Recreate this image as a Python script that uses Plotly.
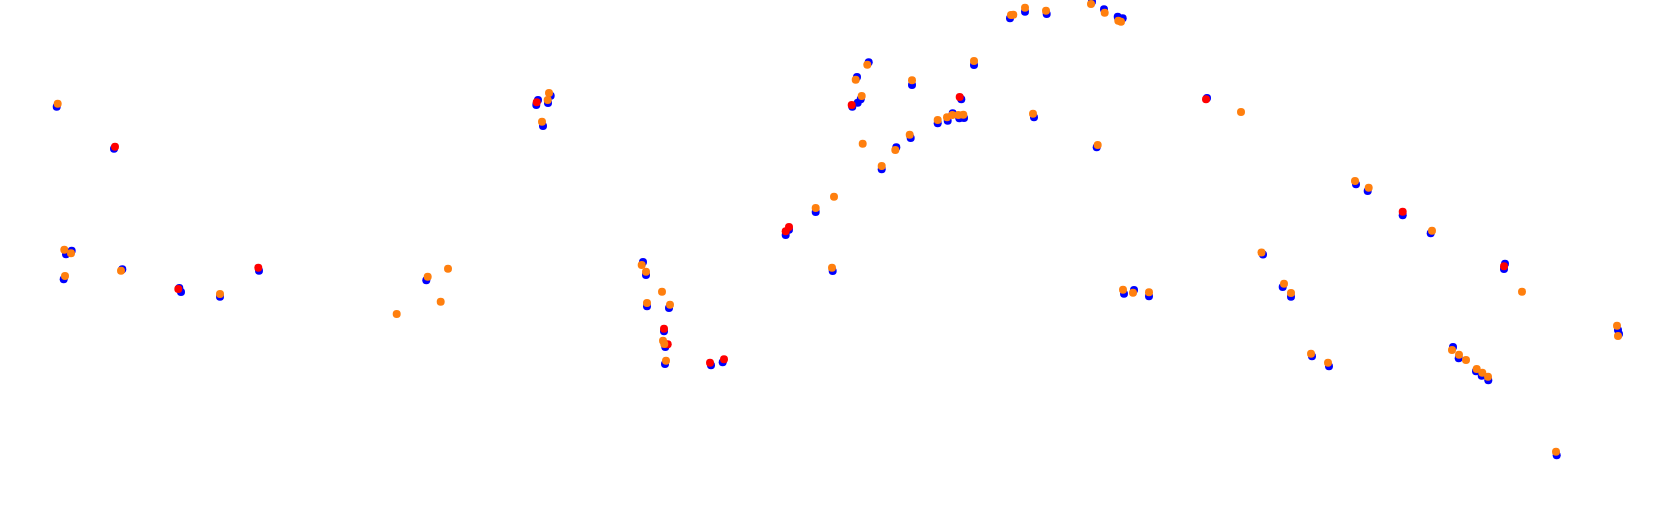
import plotly.graph_objects as go

blue_x = [56.7, 114, 66, 71.7, 63.7, 122.3, 179.3, 181, 220, 259, 550.7, 548, 536.3, 538, 543,
          815.7, 789, 785.7, 426.3, 643, 646, 647, 669, 664, 665.3, 665, 711, 722.7, 832.7,
          1010, 1025, 1046.7, 1092, 1104, 1117.7, 1122.7, 974, 868.7, 857, 860.7, 857.7, 852.3,
          912, 961.3, 937.7, 947.7, 952.7, 959.3, 964, 1034, 1207, 896.3, 910.7, 881.7, 1096.7,
          1124, 1134, 1149, 1356, 1367.7, 1402.7, 1430.7, 1263, 1282.7, 1291, 1312, 1329,
          1505, 1504, 1618, 1619, 1453, 1458.7, 1476, 1481.7, 1488.3, 1556.7]
blue_y = [106.7, 148.7, 254.3, 250.7, 279.3, 269.3, 288, 292, 296.7, 270.7, 95.7, 103, 105, 100, 126,
          212, 229.7, 235, 280.3, 262, 275, 306.3, 308, 331.3, 347, 364, 365.3, 362.3, 271,
          18.3, 11.7, 14, 1.7, 9.3, 16.7, 18.3, 65, 62.3, 77, 99.3, 102.7, 106.7,
          85, 99.3, 123.3, 120.7, 113.3, 118.3, 118, 117.3, 98, 147.3, 138, 169.3, 147.3,
          293.7, 290, 296.3, 184.3, 191, 215.3, 233.3, 254.5, 287, 296.7, 356.3, 366.3,
          263.7, 269, 330, 334, 347, 358.3, 371.3, 375.7, 380.3, 455.3]

red_x = [115, 178.3, 258.3, 536.7, 789, 785.7, 664, 667.7, 710, 724, 851.7, 959.7, 1206, 1402.7, 1504]
red_y = [146.7, 289, 267.7, 102.3, 227, 231.3, 328.7, 344.3, 362.7, 359.3, 105, 97, 99.3, 211.7, 266.3]

orange_x = [57.7, 64.3, 71, 65, 121, 220, 396.7, 549, 547.7, 542, 815.7, 834, 427.7, 448, 440.7,
            641.7, 646, 662, 647, 670, 663, 664.3, 666, 832, 1011, 1013.3, 1025, 1046, 1091,
            1104.7, 1118.3, 1121, 974, 867.3, 855.7, 861.7, 912, 937.7, 947, 952.3, 958.3, 963.3,
            1033, 1241, 862.7, 895.3, 909.7, 881.7, 1097.7, 1123, 1133, 1149, 1355, 1368.7, 1432,
            1261.5, 1284, 1291, 1311, 1328, 1522, 1617, 1618, 1452, 1459, 1466, 1476.7, 1482.3,
            1488, 1556]
orange_y = [103.7, 249.7, 253.3, 276, 270.7, 294, 314, 93, 100, 121.7, 208, 196.7, 276.7, 268.7, 301.7,
            265, 271.7, 291.7, 303, 304.7, 340.7, 344, 360.7, 267.7, 15, 14.7, 7.7, 10.7, 4,
            12.7, 20.7, 21.7, 61, 64.7, 79.7, 96, 80.3, 120, 117.3, 115, 115, 114.7,
            113.7, 112, 143.7, 150, 134.7, 166, 145, 289.7, 292.7, 292.3, 181, 187.7, 230.7,
            252.5, 283.7, 293, 353.7, 362.7, 291.7, 325.7, 336, 350, 354.7, 360, 369, 372.7,
            376.7, 451.7]

fig = go.Figure()
fig.add_trace(go.Scatter(x=blue_x, y=blue_y, mode="markers", cliponaxis=False,
                         marker=dict(color="#0000ff", size=8, line=dict(width=0))))
fig.add_trace(go.Scatter(x=red_x, y=red_y, mode="markers", cliponaxis=False,
                         marker=dict(color="#ff0000", size=8, line=dict(width=0))))
fig.add_trace(go.Scatter(x=orange_x, y=orange_y, mode="markers", cliponaxis=False,
                         marker=dict(color="#ff7f0e", size=8, line=dict(width=0))))

fig.update_layout(
    width=1680, height=508,
    margin=dict(l=0, r=0, t=0, b=0),
    paper_bgcolor="white", plot_bgcolor="white",
    showlegend=False,
    xaxis=dict(range=[0, 1680], visible=False, fixedrange=True),
    yaxis=dict(range=[508, 0], visible=False, fixedrange=True),
)
fig.write_html(
    "out.html",
    config={"displayModeBar": False},
    post_script="document.body.style.margin='0';document.body.style.overflow='hidden';",
)
